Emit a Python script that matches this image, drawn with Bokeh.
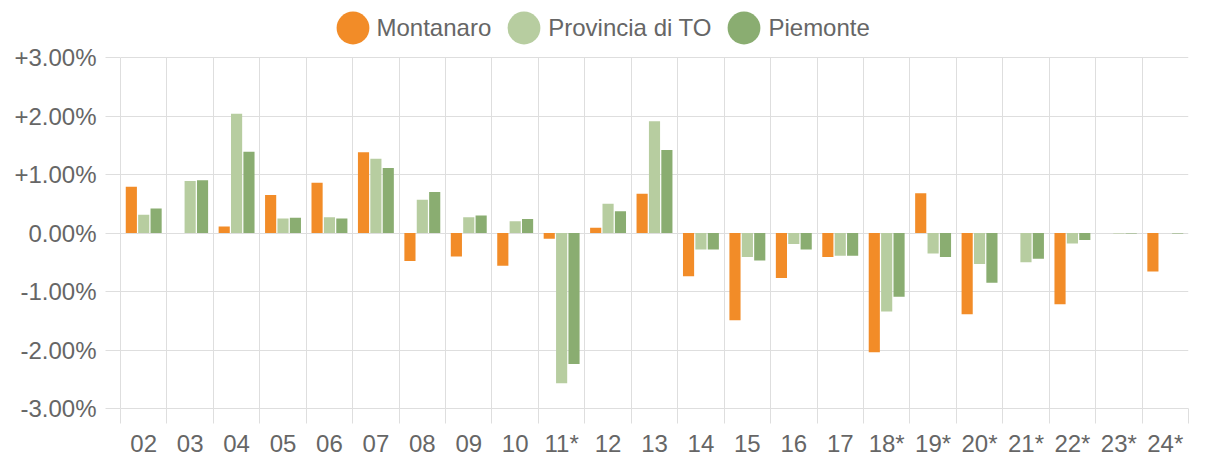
import numpy as np
from bokeh.plotting import figure
from bokeh.models import (Range1d, FixedTicker, Legend, LegendItem, ColumnDataSource)
from bokeh.embed import file_html
from bokeh.resources import INLINE

# ---------------- data ----------------
categories = ["02", "03", "04", "05", "06", "07", "08", "09", "10", "11*", "12",
              "13", "14", "15", "16", "17", "18*", "19*", "20*", "21*", "22*", "23*", "24*"]
montanaro = [0.79, 0.00, 0.11, 0.65, 0.86, 1.38, -0.48, -0.40, -0.56, -0.10, 0.09,
             0.67, -0.74, -1.49, -0.77, -0.41, -2.04, 0.68, -1.39, 0.00, -1.22, 0.00, -0.66]
provincia = [0.31, 0.89, 2.04, 0.25, 0.27, 1.27, 0.57, 0.27, 0.20, -2.57, 0.50,
             1.91, -0.28, -0.41, -0.19, -0.39, -1.34, -0.35, -0.53, -0.50, -0.18, -0.01, 0.00]
piemonte = [0.42, 0.90, 1.39, 0.26, 0.25, 1.11, 0.70, 0.30, 0.24, -2.24, 0.37,
            1.42, -0.28, -0.47, -0.28, -0.39, -1.09, -0.41, -0.85, -0.44, -0.12, -0.01, -0.01]
series_names = ["Montanaro", "Provincia di TO", "Piemonte"]
y_tick_values = [-3, -2, -1, 0, 1, 2, 3]
y_tick_labels = ["-3.00%", "-2.00%", "-1.00%", "0.00%", "+1.00%", "+2.00%", "+3.00%"]

# ---------------- style / layout ----------------
colors = ["#f28c28", "#b7cda0", "#8aad71"]
grid_color = "#dedede"
text_color = "#666666"
font = "Liberation Sans"
fs = "24px"

W, H = 1189, 459
B_LEFT, B_RIGHT, B_BOTTOM = 120, 1, 51
PLOT_TOP = 57          # pixel row of the +3% line
frame_h = H - B_BOTTOM  # frame spans the whole top, legend lives inside it
y_lo, y_hi = y_tick_values[0], y_tick_values[-1]
px_per_unit = (frame_h - PLOT_TOP) / (y_hi - y_lo)
y_top = y_hi + PLOT_TOP / px_per_unit

n = len(categories)
centers = list(range(n))
boundaries = [i - 0.5 for i in range(n + 1)]
slot = 0.8 / 3
bar_w = slot * 0.9
offsets = [-slot, 0.0, slot]

p = figure(width=W, height=H, output_backend="svg", toolbar_location=None,
           x_range=Range1d(-0.5, n - 0.5), y_range=Range1d(y_lo, y_top),
           min_border_left=B_LEFT, min_border_right=B_RIGHT,
           min_border_top=0, min_border_bottom=B_BOTTOM)
p.outline_line_color = None
p.background_fill_color = "white"
p.border_fill_color = "white"

for vals, col, off in zip([montanaro, provincia, piemonte], colors, offsets):
    src = ColumnDataSource(dict(x=[c + off for c in centers], top=vals))
    p.vbar(x="x", top="top", bottom=0, width=bar_w, source=src,
           fill_color=col, line_color=None)

# grids
p.xgrid.ticker = FixedTicker(ticks=boundaries)
p.xgrid.grid_line_color = grid_color
p.xgrid.cross_bounds = (y_lo, y_hi)
p.ygrid.ticker = FixedTicker(ticks=y_tick_values)
p.ygrid.grid_line_color = grid_color

# x axis
xa = p.xaxis[0]
xa.ticker = FixedTicker(ticks=centers, minor_ticks=boundaries)
xa.major_label_overrides = {c: lab for c, lab in zip(centers, categories)}
xa.major_tick_out = 0
xa.major_tick_in = 0
xa.minor_tick_out = 15
xa.minor_tick_in = 0
xa.minor_tick_line_color = grid_color
xa.axis_line_color = grid_color
xa.major_label_standoff = 6
xa.major_label_text_font = font
xa.major_label_text_font_size = fs
xa.major_label_text_color = text_color

# y axis
ya = p.yaxis[0]
ya.ticker = FixedTicker(ticks=y_tick_values)
ya.bounds = (y_lo, y_hi)
ya.major_label_overrides = {v: lab for v, lab in zip(y_tick_values, y_tick_labels)}
ya.major_tick_out = 15
ya.major_tick_in = 0
ya.minor_tick_line_color = None
ya.major_tick_line_color = grid_color
ya.axis_line_color = grid_color
ya.major_label_standoff = 9
ya.major_label_text_font = font
ya.major_label_text_font_size = fs
ya.major_label_text_color = text_color

# legend with circular markers
items = []
for name, col in zip(series_names, colors):
    r = p.ellipse(x=[np.nan], y=[np.nan], width=33, height=33,
                  width_units="screen", height_units="screen",
                  fill_color=col, line_color=None)
    items.append(LegendItem(label=name, renderers=[r]))

legend = Legend(items=items, orientation="horizontal",
                location=(211.5, frame_h - 48),
                glyph_width=41, glyph_height=41, label_standoff=4, spacing=12,
                padding=0, margin=0, border_line_color=None,
                background_fill_alpha=0,
                label_text_font=font, label_text_font_size=fs,
                label_text_color=text_color)
p.add_layout(legend, "center")

open("out.html", "w").write(file_html(p, INLINE))
